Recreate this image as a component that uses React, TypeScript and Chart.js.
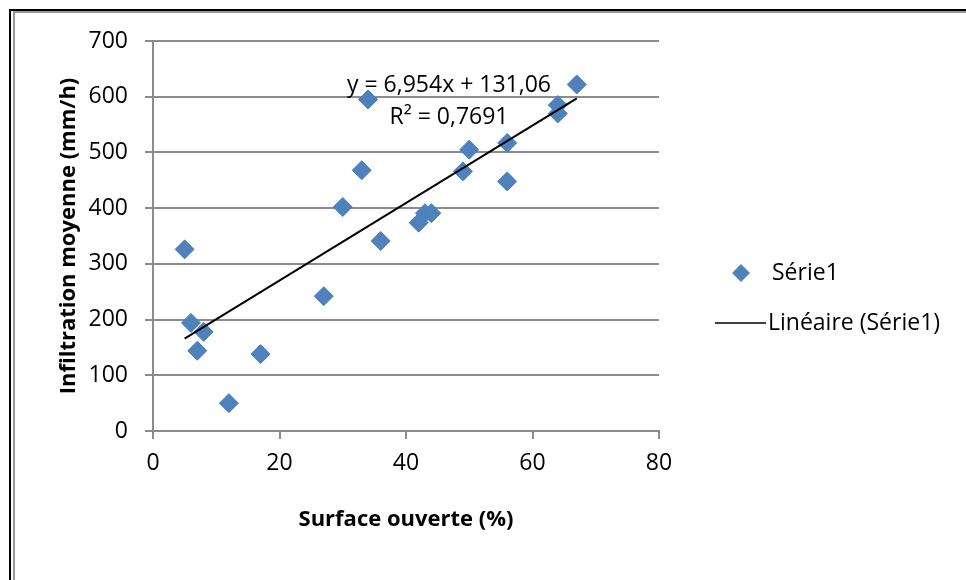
import { useEffect, useRef } from "react";
import { Chart, registerables } from "chart.js";

Chart.register(...registerables);

// ---- Data ----
const SURFACE_OUVERTE = [5, 6, 8, 7, 12, 17, 27, 30, 33, 34, 36, 42, 43, 44, 49, 50, 56, 56, 64, 64, 67];
const INFILTRATION = [326, 194, 178, 144, 50, 138, 242, 402, 468, 595, 341, 374, 391, 391, 466, 505, 517, 448, 585, 570, 622];

const X_TICKS = [0, 20, 40, 60, 80];
const Y_TICKS = [0, 100, 200, 300, 400, 500, 600, 700];

const TREND_SLOPE = 6.954;
const TREND_INTERCEPT = 131.06;
const EQUATION_LINES = ["y = 6,954x + 131,06", "R² = 0,7691"];

const SERIES_LABEL = "Série1";
const TREND_LABEL = "Linéaire (Série1)";
const X_TITLE = "Surface ouverte (%)";
const Y_TITLE = "Infiltration moyenne (mm/h)";

const FONT = "'Open Sans', Lato, sans-serif";
const BLUE = "#4F81BD";
const GRID = "#8c8c8c";

const extrasPlugin = {
  id: "excelExtras",
  afterDraw(chart: any) {
    const { ctx, chartArea, scales } = chart;
    ctx.save();
    // Trendline equation
    ctx.fillStyle = "#000";
    ctx.font = `23px ${FONT}`;
    ctx.textAlign = "center";
    ctx.textBaseline = "middle";
    const ex = scales.x.getPixelForValue(46.8);
    const ey = scales.y.getPixelForValue(620);
    ctx.fillText(EQUATION_LINES[0], ex, ey);
    ctx.fillText(EQUATION_LINES[1], ex, ey + 32);

    // Legend
    const lx = chartArea.right + 56;
    const ly1 = chartArea.top + 232;
    const ly2 = ly1 + 50;
    const cx = lx + 26;
    ctx.beginPath();
    ctx.moveTo(cx, ly1 - 9);
    ctx.lineTo(cx + 9, ly1);
    ctx.lineTo(cx, ly1 + 9);
    ctx.lineTo(cx - 9, ly1);
    ctx.closePath();
    ctx.fillStyle = BLUE;
    ctx.fill();
    ctx.fillStyle = "#000";
    ctx.textAlign = "left";
    ctx.fillText(SERIES_LABEL, lx + 57, ly1);

    ctx.beginPath();
    ctx.moveTo(lx, ly2);
    ctx.lineTo(lx + 51, ly2);
    ctx.strokeStyle = "#000";
    ctx.lineWidth = 1.5;
    ctx.stroke();
    ctx.fillText(TREND_LABEL, lx + 53, ly2);
    ctx.restore();
  },
};

export default function App() {
  const canvasRef = useRef<HTMLCanvasElement | null>(null);

  useEffect(() => {
    const canvas = canvasRef.current;
    if (!canvas) return;
    const points = SURFACE_OUVERTE.map((x, i) => ({ x, y: INFILTRATION[i] }));
    const xMin = Math.min(...SURFACE_OUVERTE);
    const xMax = Math.max(...SURFACE_OUVERTE);
    const trend = [xMin, xMax].map((x) => ({ x, y: TREND_SLOPE * x + TREND_INTERCEPT }));

    const chart = new Chart(canvas, {
      type: "scatter",
      data: {
        datasets: [
          {
            label: SERIES_LABEL,
            data: points,
            pointStyle: "rectRot",
            pointRadius: 9.5,
            pointHoverRadius: 9.5,
            backgroundColor: BLUE,
            borderColor: "#4A7EBB",
            borderWidth: 1,
            order: 1,
          },
          {
            label: TREND_LABEL,
            type: "line",
            data: trend,
            borderColor: "#000",
            borderWidth: 2,
            pointRadius: 0,
            fill: false,
            showLine: true,
            order: 0,
          } as any,
        ],
      },
      options: {
        responsive: false,
        animation: false,
        events: [],
        layout: { padding: { top: 41, right: 307, bottom: 0, left: 0 } },
        plugins: {
          legend: { display: false },
          tooltip: { enabled: false },
        },
        scales: {
          x: {
            type: "linear",
            min: 0,
            max: 80,
            afterBuildTicks: (scale: any) => {
              scale.ticks = X_TICKS.map((v) => ({ value: v }));
            },
            afterFit: (scale: any) => {
              scale.height = 149;
            },
            ticks: {
              color: "#000",
              font: { family: FONT, size: 23 },
              padding: 11,
            },
            grid: {
              drawOnChartArea: false,
              drawTicks: true,
              tickLength: 8,
              color: GRID,
              lineWidth: 2,
            },
            border: { display: true, color: GRID, width: 2 },
            title: {
              display: true,
              text: X_TITLE,
              color: "#000",
              font: { family: FONT, size: 22, weight: "bold" },
              padding: { top: 0, bottom: 47 },
            },
          },
          y: {
            type: "linear",
            min: 0,
            max: 700,
            afterBuildTicks: (scale: any) => {
              scale.ticks = Y_TICKS.map((v) => ({ value: v }));
            },
            afterFit: (scale: any) => {
              scale.width = 153;
            },
            ticks: {
              color: "#000",
              font: { family: FONT, size: 23 },
              padding: 17,
            },
            grid: {
              drawOnChartArea: true,
              drawTicks: true,
              tickLength: 8,
              color: GRID,
              lineWidth: 2,
            },
            border: { display: true, color: GRID, width: 2 },
            title: {
              display: true,
              text: Y_TITLE,
              color: "#000",
              font: { family: FONT, size: 22, weight: "bold" },
              padding: { top: 56, bottom: 0 },
            },
          },
        },
      },
      plugins: [extrasPlugin],
    });
    return () => chart.destroy();
  }, []);

  return (
    <div
      style={{
        position: "fixed",
        left: 0,
        top: 0,
        width: 966,
        height: 580,
        overflow: "hidden",
        background: "#fff",
      }}
    >
      <div style={{ position: "absolute", left: 9, top: 9, width: 2000, height: 2000, borderLeft: "2px solid #000", borderTop: "2px solid #000" }} />
      <div style={{ position: "absolute", left: 13, top: 11, width: 2000, height: 2000, borderLeft: "2px solid #9a9a9a", borderTop: "2px solid #9a9a9a" }} />
      <canvas ref={canvasRef} width={966} height={580} style={{ position: "absolute", left: 0, top: 0 }} />
    </div>
  );
}
